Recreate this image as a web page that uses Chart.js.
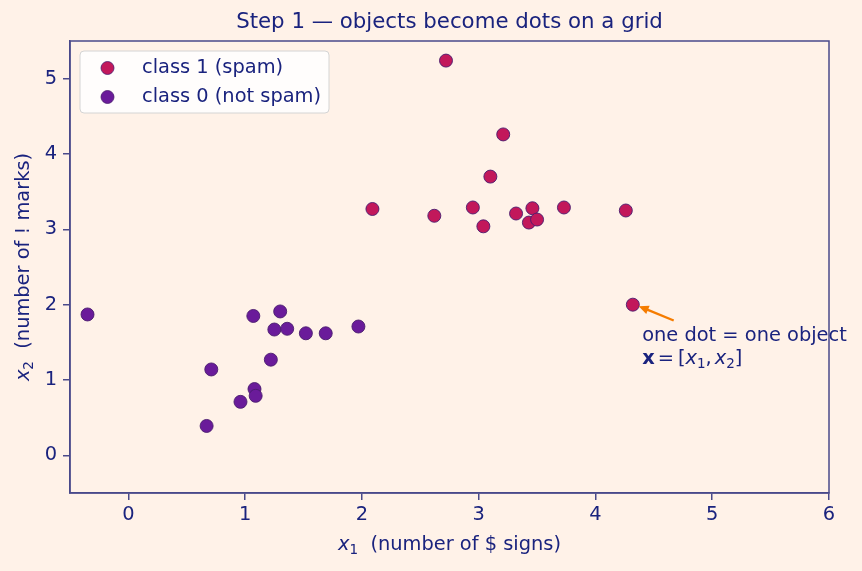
<!DOCTYPE html>
<html>
<head>
<meta charset="utf-8">
<script src="https://cdn.jsdelivr.net/npm/chart.js@4/dist/chart.umd.min.js"></script>
<style>
  html, body { margin: 0; padding: 0; background: #FFF2E8; }
  #wrap { width: 862px; height: 571px; position: relative; }
</style>
</head>
<body>
<div id="wrap"><canvas id="c" width="862" height="571"></canvas></div>
<script>
// ---- data ----
const spamX1 = [2.72, 3.21, 3.10, 2.09, 2.62, 2.95, 3.04, 3.32, 3.46, 3.43, 3.50, 3.73, 4.26, 4.32];
const spamX2 = [5.24, 4.26, 3.70, 3.27, 3.18, 3.29, 3.04, 3.21, 3.28, 3.09, 3.13, 3.29, 3.25, 2.00];
const hamX1  = [-0.35, 1.07, 1.30, 1.25, 1.36, 1.52, 1.69, 1.97, 1.22, 0.71, 1.08, 1.09, 0.96, 0.67];
const hamX2  = [1.87, 1.85, 1.91, 1.67, 1.68, 1.62, 1.62, 1.71, 1.27, 1.14, 0.88, 0.79, 0.71, 0.39];
const xTicks = [0, 1, 2, 3, 4, 5, 6];
const yTicks = [0, 1, 2, 3, 4, 5];
const seriesLabels = ["class 1 (spam)", "class 0 (not spam)"];
const titleText = "Step 1 \u2014 objects become dots on a grid";
const annotLine1 = "one dot = one object";
// annotation anchors (data coords)
const arrowTip = [4.37, 1.98];
const arrowTail = [4.67, 1.79];
const annotTextPos = [4.40, 1.58];

const TEXT = "#1A237E";
const SPINE = "#4A4A8A";
const SPAM = "#C2185B";
const HAM = "#6A1B9A";
const EDGE = "#4A1C6E";
const ORANGE = "#F57C00";
const FONT = "'DejaVu Sans', sans-serif";
const FS = 19.4;   // base font size
const SUB = 13.5;  // subscript size

const toPts = (xs, ys) => xs.map((x, i) => ({x: x, y: ys[i]}));

const decor = {
  id: 'decor',
  afterDraw(chart) {
    const ctx = chart.ctx;
    const a = chart.chartArea;
    const xs = chart.scales.x, ys = chart.scales.y;
    ctx.save();
    // frame
    ctx.strokeStyle = SPINE;
    ctx.lineWidth = 1.5;
    ctx.strokeRect(a.left, a.top, a.right - a.left, a.bottom - a.top);

    // title (centered over the plot area)
    ctx.fillStyle = TEXT;
    ctx.font = "21.3px " + FONT;
    ctx.textAlign = 'center';
    ctx.textBaseline = 'middle';
    ctx.fillText(titleText, (a.left + a.right) / 2, 22);

    // axis titles
    ctx.textBaseline = 'middle';
    function drawVarLabel(sub, rest, cx, cy) {
      ctx.font = "italic " + FS + "px " + FONT;
      const wx = ctx.measureText("x").width;
      ctx.font = SUB + "px " + FONT;
      const ws = ctx.measureText(sub).width;
      ctx.font = FS + "px " + FONT;
      const wr = ctx.measureText(rest).width;
      const total = wx + ws + wr;
      let x = cx - total / 2;
      ctx.textAlign = 'left';
      ctx.font = "italic " + FS + "px " + FONT;
      ctx.fillText("x", x, cy);
      x += wx;
      ctx.font = SUB + "px " + FONT;
      ctx.fillText(sub, x, cy + 5);
      x += ws;
      ctx.font = FS + "px " + FONT;
      ctx.fillText(rest, x, cy);
    }
    drawVarLabel("1", "  (number of $ signs)", (a.left + a.right) / 2, 545);
    ctx.save();
    ctx.translate(24, (a.top + a.bottom) / 2);
    ctx.rotate(-Math.PI / 2);
    drawVarLabel("2", "  (number of ! marks)", 0, 0);
    ctx.restore();

    // legend
    const lx = 80, ly = 51, lw = 249, lh = 62, r = 4;
    ctx.beginPath();
    ctx.moveTo(lx + r, ly);
    ctx.arcTo(lx + lw, ly, lx + lw, ly + lh, r);
    ctx.arcTo(lx + lw, ly + lh, lx, ly + lh, r);
    ctx.arcTo(lx, ly + lh, lx, ly, r);
    ctx.arcTo(lx, ly, lx + lw, ly, r);
    ctx.closePath();
    ctx.fillStyle = "rgba(255,255,255,0.85)";
    ctx.fill();
    ctx.strokeStyle = "#D4D4D4";
    ctx.lineWidth = 1;
    ctx.stroke();
    const cols = [SPAM, HAM];
    [68, 97].forEach((yy, i) => {
      ctx.beginPath();
      ctx.arc(107.5, yy, 6.5, 0, Math.PI * 2);
      ctx.fillStyle = cols[i];
      ctx.fill();
      ctx.strokeStyle = EDGE;
      ctx.lineWidth = 0.8;
      ctx.stroke();
      ctx.fillStyle = TEXT;
      ctx.font = FS + "px " + FONT;
      ctx.textAlign = 'left';
      ctx.textBaseline = 'middle';
      ctx.fillText(seriesLabels[i], 142, yy);
    });

    // annotation arrow
    const tx = xs.getPixelForValue(arrowTip[0]), ty = ys.getPixelForValue(arrowTip[1]);
    const sx = xs.getPixelForValue(arrowTail[0]), sy = ys.getPixelForValue(arrowTail[1]);
    const ang = Math.atan2(ty - sy, tx - sx);
    ctx.strokeStyle = ORANGE;
    ctx.fillStyle = ORANGE;
    ctx.lineWidth = 2.4;
    ctx.beginPath();
    ctx.moveTo(sx, sy);
    ctx.lineTo(tx - 6 * Math.cos(ang), ty - 6 * Math.sin(ang));
    ctx.stroke();
    ctx.beginPath();
    ctx.moveTo(tx, ty);
    ctx.lineTo(tx - 10 * Math.cos(ang) + 4.5 * Math.sin(ang), ty - 10 * Math.sin(ang) - 4.5 * Math.cos(ang));
    ctx.lineTo(tx - 10 * Math.cos(ang) - 4.5 * Math.sin(ang), ty - 10 * Math.sin(ang) + 4.5 * Math.cos(ang));
    ctx.closePath();
    ctx.fill();

    // annotation text
    const ax = xs.getPixelForValue(annotTextPos[0]);
    const ay = ys.getPixelForValue(annotTextPos[1]);
    ctx.fillStyle = TEXT;
    ctx.textAlign = 'left';
    ctx.textBaseline = 'middle';
    ctx.font = FS + "px " + FONT;
    ctx.fillText(annotLine1, ax, ay);
    let x = ax;
    const y2 = ay + 23;
    const parts = [
      ["bold " + FS + "px " + FONT, "x", 0, 3],
      [FS + "px " + FONT, "=", 0, 4],
      [FS + "px " + FONT, "[", 0, 0],
      ["italic " + FS + "px " + FONT, "x", 0, 0],
      [SUB + "px " + FONT, "1", 5, 0],
      [FS + "px " + FONT, ",", 0, 3],
      ["italic " + FS + "px " + FONT, "x", 0, 0],
      [SUB + "px " + FONT, "2", 5, 0],
      [FS + "px " + FONT, "]", 0, 0]
    ];
    parts.forEach(p => {
      ctx.font = p[0];
      ctx.fillText(p[1], x, y2 + p[2]);
      x += ctx.measureText(p[1]).width + p[3];
    });
    ctx.restore();
  }
};

const bgPlugin = {
  id: 'bg',
  beforeDraw(chart) {
    const ctx = chart.ctx;
    ctx.save();
    ctx.fillStyle = "#FFF2E8";
    ctx.fillRect(0, 0, chart.width, chart.height);
    ctx.restore();
  }
};

new Chart(document.getElementById('c'), {
  type: 'scatter',
  data: {
    datasets: [
      { label: seriesLabels[0], data: toPts(spamX1, spamX2), backgroundColor: SPAM, borderColor: EDGE, borderWidth: 0.9, pointRadius: 6.5, pointHoverRadius: 6.5 },
      { label: seriesLabels[1], data: toPts(hamX1, hamX2), backgroundColor: HAM, borderColor: EDGE, borderWidth: 0.9, pointRadius: 6.5, pointHoverRadius: 6.5 }
    ]
  },
  options: {
    responsive: false,
    animation: false,
    events: [],
    layout: { padding: { left: 0, right: 33, top: 41, bottom: 0 } },
    plugins: {
      legend: { display: false },
      tooltip: { enabled: false },
      title: { display: false }
    },
    scales: {
      x: {
        type: 'linear',
        min: -0.5, max: 6,
        afterBuildTicks: s => { s.ticks = xTicks.map(v => ({ value: v })); },
        afterFit: s => { s.height = 78; },
        grid: { drawOnChartArea: false, drawTicks: true, tickLength: 7, color: SPINE, lineWidth: 1.5 },
        border: { display: true, color: SPINE, width: 1.5 },
        ticks: { color: TEXT, font: { family: FONT, size: FS }, padding: 3, maxRotation: 0 }
      },
      y: {
        type: 'linear',
        min: -0.5, max: 5.5,
        afterBuildTicks: s => { s.ticks = yTicks.map(v => ({ value: v })); },
        afterFit: s => { s.width = 70; },
        grid: { drawOnChartArea: false, drawTicks: true, tickLength: 7, color: SPINE, lineWidth: 1.5 },
        border: { display: true, color: SPINE, width: 1.5 },
        ticks: { color: TEXT, font: { family: FONT, size: FS }, padding: 6 }
      }
    }
  },
  plugins: [bgPlugin, decor]
});
</script>
</body>
</html>
